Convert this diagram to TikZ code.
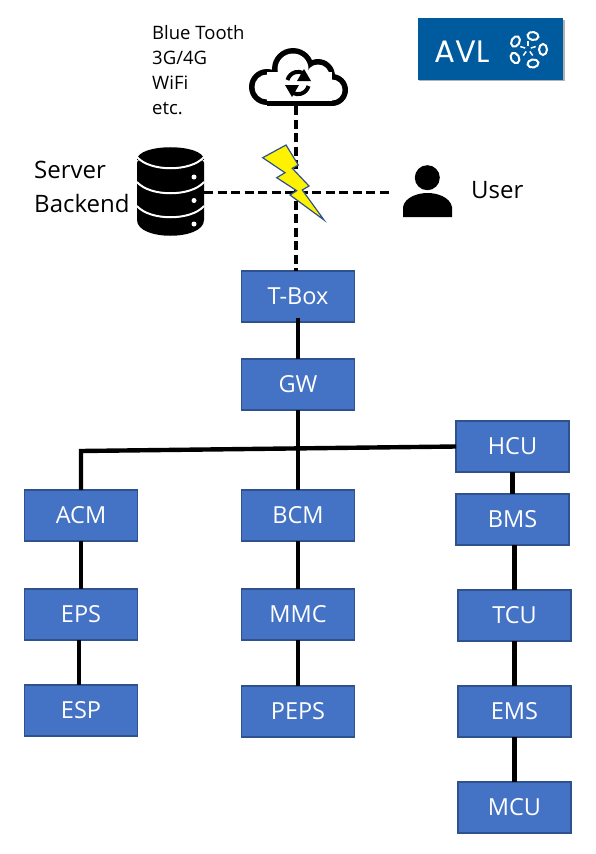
\documentclass[tikz,border=0pt]{standalone}
\usepackage{fontspec}
\setmainfont{Open Sans}
\newfontfamily\logofont{Poppins}
\usepackage{tikz}
\usetikzlibrary{positioning}
\definecolor{boxblue}{RGB}{68, 114, 196}
\definecolor{boxedge}{RGB}{47, 82, 143}
\definecolor{logoblue}{RGB}{0, 90, 158}
\tikzstyle{ecu} = [rectangle, minimum width=113pt, minimum height=51pt, inner sep=0pt, outer sep=0pt, text centered, draw=boxedge, line width=1.3pt, fill=boxblue, text=white, font=\fontsize{23.5}{24}\selectfont]
\tikzstyle{icon} = [rectangle, inner sep=0pt, outer sep=0pt]
\tikzstyle{bus} = [line width=4.4pt]
\tikzstyle{link} = [line width=3.2pt, dash pattern=on 9pt off 4.5pt]
\tikzstyle{label} = [inner sep=0pt, align=left, anchor=west]

\begin{document}
\begin{tikzpicture}[x=1pt, y=1pt]
\useasboundingbox (0,0) rectangle (596,-854);

% Icon places, the dashed links end on these
\node (cloud) [icon, minimum width=100pt, minimum height=58pt] at (296,-77) {};
\node (server) [icon, minimum width=67pt, minimum height=89pt] at (170.5,-192.5) {};
\node (user) [icon, minimum width=60pt, minimum height=56pt] at (422.5,-192.5) {};

% Units, three columns below the gateway
\node (tbox) [ecu] at (298,-296.5) {T-Box};
\node (gw) [ecu, below=37pt of tbox] {GW};
\node (bcm) [ecu, below=80pt of gw] {BCM};
\node (mmc) [ecu, below=48pt of bcm] {MMC};
\node (peps) [ecu, below=46pt of mmc] {PEPS};
\node (acm) [ecu, left=104pt of bcm] {ACM};
\node (eps) [ecu, below=48pt of acm] {EPS};
\node (esp) [ecu, below=45pt of eps] {ESP};
\node (hcu) [ecu] at (512.5,-446.5) {HCU};
\node (bms) [ecu, below=22pt of hcu] {BMS};
\node (tcu) [ecu, below=45pt of bms, xshift=2pt] {TCU};
\node (ems) [ecu, below=45pt of tcu] {EMS};
\node (mcu) [ecu, below=45pt of ems] {MCU};
\coordinate (busleft) at (81,-451);
\coordinate (espin) at ([xshift=-2pt]esp.north);

% Wired links
\draw [bus] (tbox.south) ++(0,4) -- (gw.north);
\draw [bus] (gw) -- (bcm);
\draw [bus] (acm.north) -- (busleft) -- (hcu.west);
\draw [bus] (bcm) -- (mmc);
\draw [bus] (mmc) -- (peps);
\draw [bus] (acm) -- (eps);
\draw [bus] (espin |- eps.south) -- (espin);
\draw [bus] (hcu) -- (bms);
\draw [bus] (bms.south) ++(2,0) -- (tcu.north);
\draw [bus] (tcu) -- (ems);
\draw [bus] (ems) -- (mcu);

% Wireless links
\draw [link] (cloud.south) -- (cloud.south |- tbox.north);
\draw [link] (server.east) -- (user.west);

% Bolt
\filldraw [fill=yellow, draw=boxedge, line width=1.2pt, line join=miter]
  (262.7,-157.7) -- (286,-145) -- (298.3,-165) -- (292.3,-168.3) -- (309,-186) -- (302.3,-190)
  -- (324,-220) -- (290,-195) -- (296.7,-190.7) -- (276.7,-177.7) -- (285,-172.7) -- cycle;

% Cloud
\foreach \cx/\cy/\cr in {267/-87/18, 293/-69/21, 318/-76/17, 332/-90/16}
  \fill [black] (\cx,\cy) circle (\cr);
\fill [black] (267,-70) rectangle (332,-106);
\foreach \cx/\cy/\cr in {267/-87/12.5, 293/-69/15.5, 318/-76/11.5, 332/-90/10.5}
  \fill [white] (\cx,\cy) circle (\cr);
\fill [white] (267,-72) rectangle (332,-100.5);
\draw [line width=4pt] (287.5,-80) arc (165:65:11);
\draw [line width=4pt] (308.5,-86) arc (-15:-115:11);
\fill (304,-69) -- (311,-81) -- (297,-81) -- cycle;
\fill (292,-97) -- (285,-85) -- (299,-85) -- cycle;

% Server
\fill (137,-163) .. controls (137,-152) and (204,-152) .. (204,-163) -- (204,-220)
  .. controls (204,-241) and (137,-241) .. (137,-220) -- cycle;
\fill (137,-160) .. controls (137,-143) and (204,-143) .. (204,-160) -- cycle;
\foreach \ly in {-157,-182,-206} {
  \draw [white, line width=2pt] (137,\ly) .. controls (150,\ly-15) and (191,\ly-15) .. (204,\ly);
}
\foreach \dy in {-177,-200.5,-224}
  \fill [white] (194,\dy) circle (2.5);

% User
\fill (427.3,-177.7) circle (12.5);
\fill (403,-217) -- (403,-207) .. controls (405,-197) and (418,-193) .. (427.5,-193)
  .. controls (437,-193) and (450,-197) .. (452,-207) -- (452,-217) -- cycle;

% Logo
\fill [black!30] (419,-20) rectangle (564.5,-81);
\node (logo) [rectangle, fill=logoblue, minimum width=145.5pt, minimum height=62pt, inner sep=0pt] at (490.5,-49) {};
\node (avl) [label, text=white, font=\logofont\fontsize{31}{31}\selectfont] at (434.5,-52) {AVL};
\foreach \lx/\ly/\lr in {533/-36/-10, 515.5/-41.5/60, 515/-58/-60, 533/-63.5/10, 543/-49.5/90}
  \draw [white, line width=2pt] (\lx,\ly) ellipse [x radius=5.5pt, y radius=4pt, rotate=\lr];
\foreach \sa in {18,90,162,234,306}
  \draw [white, line width=1.5pt] (528,-49) ++(\sa:3) -- ++(\sa:5);

% Labels
\node (wireless) [label, font=\fontsize{18.5}{25}\selectfont] at (152,-70.5) {Blue Tooth\\3G/4G\\WiFi\\etc.};
\node (backend) [label, font=\fontsize{24}{34}\selectfont] at (34,-187) {Server\\Backend};
\node (username) [label, font=\fontsize{24}{24}\selectfont] at (471,-190) {User};

\end{tikzpicture}
\end{document}
